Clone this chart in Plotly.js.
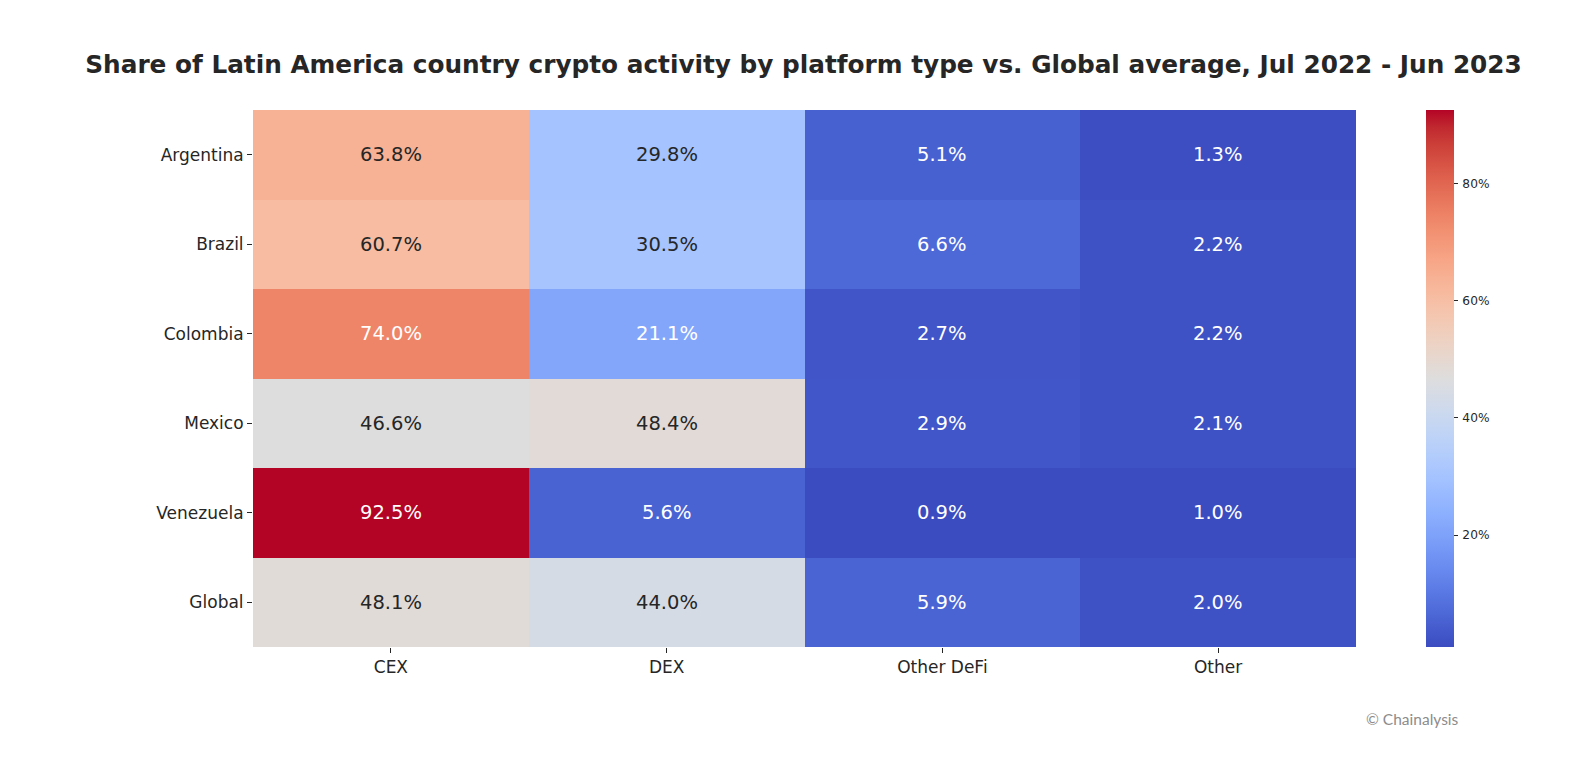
<!DOCTYPE html>
<html>
<head>
<meta charset="utf-8">
<script src="https://cdn.plot.ly/plotly-3.0.1.min.js"></script>
<style>
html,body{margin:0;padding:0;background:#fff;}
#chart{width:1588px;height:764px;}
</style>
</head>
<body>
<div id="chart"></div>
<script>
const countries = ["Argentina", "Brazil", "Colombia", "Mexico", "Venezuela", "Global"];
const platforms = ["CEX", "DEX", "Other DeFi", "Other"];
const cex = [63.8, 60.7, 74.0, 46.6, 92.5, 48.1];
const dex = [29.8, 30.5, 21.1, 48.4, 5.6, 44.0];
const otherDefi = [5.1, 6.6, 2.7, 2.9, 0.9, 5.9];
const other = [1.3, 2.2, 2.2, 2.1, 1.0, 2.0];
const colorbarTicks = [20, 40, 60, 80];

// matplotlib "coolwarm" (Moreland) stops
const coolwarm = [
[59,76,192],[68,90,204],[77,104,215],[87,117,225],[98,130,234],[108,142,241],
[119,154,247],[130,165,251],[141,176,254],[152,185,255],[163,194,255],[174,201,253],
[184,208,249],[194,213,244],[204,217,238],[213,219,230],[221,221,221],[229,216,209],
[236,211,197],[241,204,185],[245,196,173],[247,187,160],[247,177,148],[247,166,135],
[244,154,123],[241,141,111],[236,127,99],[229,112,88],[222,96,77],[213,80,66],
[203,62,56],[192,40,47],[180,4,38]
];
const colorscale = coolwarm.map((c, i) => [i / (coolwarm.length - 1), `rgb(${c[0]},${c[1]},${c[2]})`]);

const z = countries.map((_, i) => [cex[i], dex[i], otherDefi[i], other[i]]);
const flat = z.flat();
const zmin = Math.min(...flat), zmax = Math.max(...flat);

function colorAt(v) {
  let t = (v - zmin) / (zmax - zmin);
  t = Math.max(0, Math.min(1, t));
  const p = t * (coolwarm.length - 1);
  const i = Math.min(Math.floor(p), coolwarm.length - 2);
  const f = p - i;
  return coolwarm[i].map((c, k) => c + (coolwarm[i + 1][k] - c) * f);
}
function lum(rgb) {
  const lin = rgb.map(c => { c /= 255; return c <= 0.03928 ? c / 12.92 : Math.pow((c + 0.055) / 1.055, 2.4); });
  return 0.2126 * lin[0] + 0.7152 * lin[1] + 0.0722 * lin[2];
}

const annotations = [];
countries.forEach((cty, i) => {
  platforms.forEach((pl, j) => {
    const v = z[i][j];
    annotations.push({
      x: pl, y: cty, xref: 'x', yref: 'y',
      text: v.toFixed(1) + '%', showarrow: false,
      font: {family: 'DejaVu Sans', size: 19.5, color: lum(colorAt(v)) > 0.408 ? '#262626' : '#ffffff'}
    });
  });
});
annotations.push({
  xref: 'paper', yref: 'paper', x: 1.0, y: -0.135, xanchor: 'left', yanchor: 'middle',
  xshift: 8,
  text: '© Chainalysis', showarrow: false,
  font: {family: 'Lato', size: 15.5, color: '#8c8c8c'}
});

const trace = {
  type: 'heatmap',
  x: platforms, y: countries, z: z,
  zmin: zmin, zmax: zmax,
  colorscale: colorscale,
  hoverongaps: false,
  colorbar: {
    x: 1.0632, xanchor: 'left', xref: 'paper',
    y: 0.5, yanchor: 'middle', len: 1, lenmode: 'fraction',
    thickness: 27.5, thicknessmode: 'pixels',
    outlinewidth: 0, xpad: 0, ypad: 0,
    tickvals: colorbarTicks, ticktext: colorbarTicks.map(v => '\u2009' + v + '%'),
    ticks: 'outside', ticklen: 4, tickwidth: 1, tickcolor: '#262626',
    tickfont: {family: 'DejaVu Sans', size: 12.2, color: '#262626'}
  }
};

const layout = {
  width: 1588, height: 764,
  paper_bgcolor: '#ffffff', plot_bgcolor: '#ffffff',
  margin: {l: 253, r: 232, t: 110, b: 117},
  title: {
    text: '<b>Share of Latin America country crypto activity by platform type vs. Global average, Jul 2022 - Jun 2023</b>',
    x: 0.506, xanchor: 'center', y: 0.916, yanchor: 'middle',
    font: {family: 'DejaVu Sans', size: 24.75, color: '#262626'}
  },
  xaxis: {
    type: 'category', showgrid: false, zeroline: false, showline: false,
    ticks: 'outside', ticklen: 5, tickwidth: 1, tickcolor: '#262626',
    tickfont: {family: 'DejaVu Sans', size: 17, color: '#262626'}
  },
  yaxis: {
    type: 'category', autorange: 'reversed', showgrid: false, zeroline: false, showline: false,
    ticks: 'outside', ticklen: 5, tickwidth: 1, tickcolor: '#262626',
    tickfont: {family: 'DejaVu Sans', size: 17, color: '#262626'}
  },
  annotations: annotations
};

Plotly.newPlot('chart', [trace], layout, {displayModeBar: false, staticPlot: true});
</script>
</body>
</html>
